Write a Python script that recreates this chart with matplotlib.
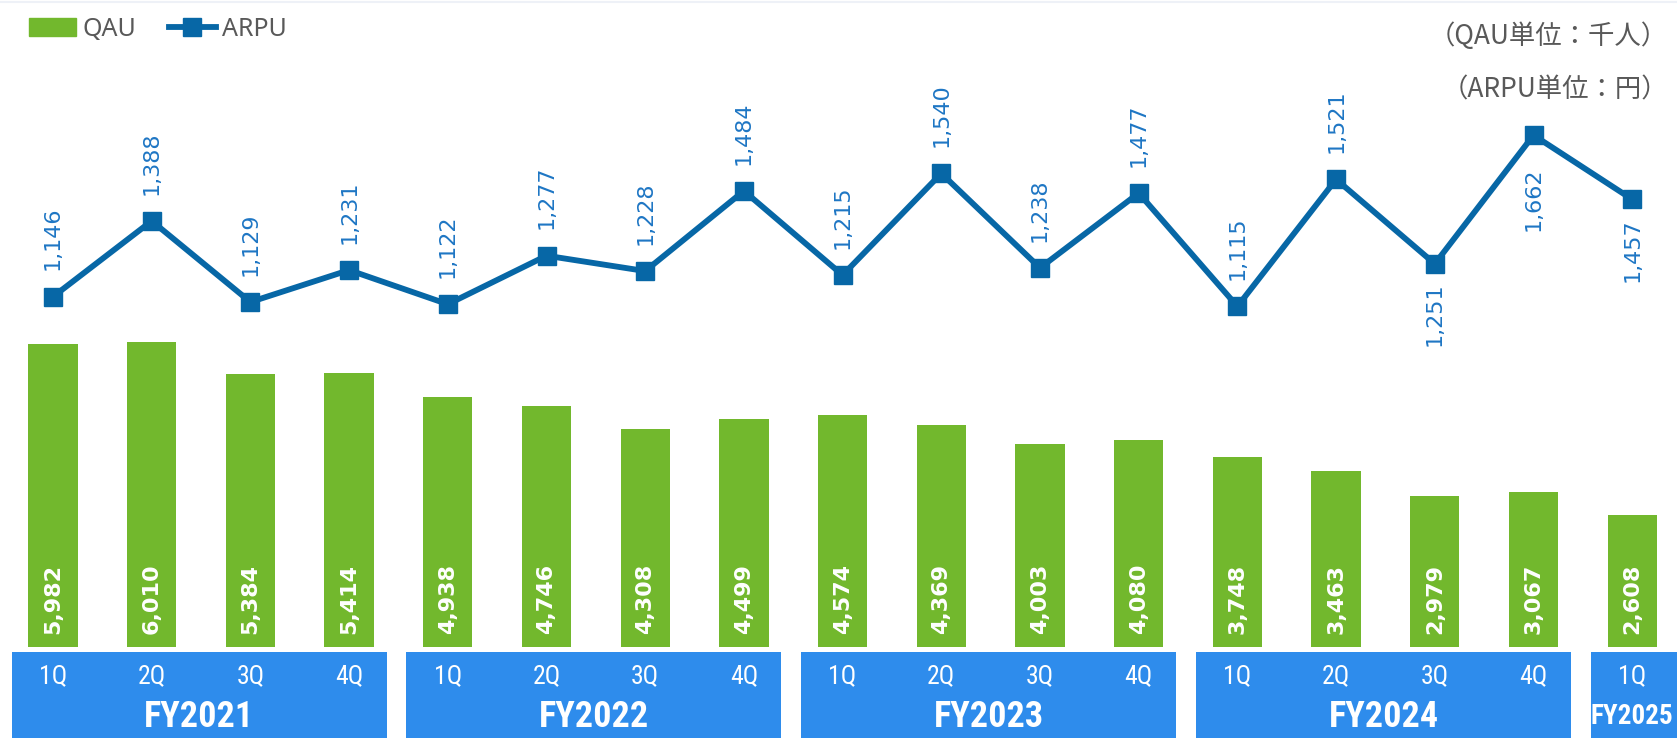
import matplotlib.pyplot as plt
from matplotlib.patches import Rectangle, Patch
from matplotlib.lines import Line2D
from matplotlib import transforms
from matplotlib import font_manager

# quarterly figures
quarters = ['1Q', '2Q', '3Q', '4Q'] * 4 + ['1Q']
fiscal_years = ['FY2021', 'FY2022', 'FY2023', 'FY2024', 'FY2025']
year_sizes = [4, 4, 4, 4, 1]
qau = [5982, 6010, 5384, 5414, 4938, 4746, 4308, 4499, 4574, 4369, 4003, 4080,
       3748, 3463, 2979, 3067, 2608]
arpu = [1146, 1388, 1129, 1231, 1122, 1277, 1228, 1484, 1215, 1540, 1238, 1477,
        1115, 1521, 1251, 1662, 1457]

GREEN = '#72b82d'
LINE_BLUE = '#0767a6'
LABEL_BLUE = '#1e76c4'
BOX_BLUE = '#2e8cec'
GREY = '#595959'

# ARPU labels that sit under their point, with their offsets in points
below_offsets = {14: 13.5, 15: 23, 16: 14}

names = {f.name for f in font_manager.fontManager.ttflist}
narrow = next((n for n in ['Roboto Condensed', 'Liberation Sans Narrow']
               if n in names), None)
if narrow:
    box_font, fy_size, fy_last_size, q_size = narrow, 26, 19.5, 18.5
else:
    box_font, fy_size, fy_last_size, q_size = 'Roboto', 23, 15.5, 16

W, H = 1677, 738
fig = plt.figure(figsize=(W / 100, H / 100), dpi=100)
ax = fig.add_axes([0, 0, 1, 1])
ax2 = ax.twinx()
for a in (ax, ax2):
    a.set_axis_off()

x = list(range(len(qau)))
step = 98.7
ax.set_xlim(-53 / step, (W - 53) / step)
ax.set_ylim(-91 / 0.0507, (H - 91) / 0.0507)
ax2.set_ylim(-82.6 / 0.313, (H - 82.6) / 0.313)

# QAU bars with values written inside
ax.bar(x, qau, width=0.5, color=GREEN, zorder=2)
for xi, v in zip(x, qau):
    ax.annotate(f'{v:,}', (xi, 0), xytext=(0, 9), textcoords='offset points',
                rotation=90, ha='center', va='bottom', color='white',
                fontsize=16, fontweight='bold', family='DejaVu Sans')

# ARPU line
ax2.plot(x, arpu, color=LINE_BLUE, lw=4.2, marker='s', markersize=12.5,
         solid_joinstyle='miter', zorder=3)
for i, (xi, v) in enumerate(zip(x, arpu)):
    if i in below_offsets:
        off, va = -below_offsets[i], 'top'
    else:
        off, va = 19, 'bottom'
    ax2.annotate(f'{v:,}', (xi, v), xytext=(0, off), textcoords='offset points',
                 rotation=90, ha='center', va=va, color=LABEL_BLUE,
                 fontsize=16, family='DejaVu Sans')

# fiscal year boxes along the bottom
trans = transforms.blended_transform_factory(ax.transData, ax.transAxes)
start = 0
for fy, n in zip(fiscal_years, year_sizes):
    left = start - 0.42
    right = start + n - 1 + 0.38 if n > 1 else ax.get_xlim()[1] + 1
    ax.add_patch(Rectangle((left, -0.05), right - left, 0.05 + 0.1165,
                           transform=trans, color=BOX_BLUE, lw=0, zorder=1))
    for k in range(n):
        ax.text(start + k, 0.0844, quarters[start + k], transform=trans,
                ha='center', va='center', color='white', fontsize=q_size,
                family=box_font)
    cx = (left + right) / 2 if n > 1 else start
    ax.text(cx, 0.029, fy, transform=trans, ha='center', va='center',
            color='white', fontsize=fy_size if n > 1 else fy_last_size,
            fontweight='bold', family=box_font)
    start += n

# legend
handles = [Patch(color=GREEN),
           Line2D([], [], color=LINE_BLUE, lw=4.2, marker='s', markersize=12.5)]
leg = ax.legend(handles, ['QAU', 'ARPU'], loc='upper left',
                bbox_to_anchor=(16 / W, 1 - 4 / H), bbox_transform=fig.transFigure,
                ncol=2, frameon=False, handlelength=1.9,
                handletextpad=0.25, columnspacing=1.3, borderpad=0,
                prop={'family': 'Noto Sans', 'size': 18})
for t in leg.get_texts():
    t.set_color(GREY)

# unit notes
cjk = ['Noto Sans CJK JP', 'DejaVu Sans']
fig.text(1668 / W, 1 - 36 / H, '（QAU単位：千人）', ha='right', va='center',
         color=GREY, fontsize=19, family=cjk)
fig.text(1668 / W, 1 - 90 / H, '（ARPU単位：円）', ha='right', va='center',
         color=GREY, fontsize=19, family=cjk)

fig.add_artist(Line2D([0, 1], [1 - 1.5 / H] * 2, color='#eef1f7', lw=1.5))

fig.savefig('out.png', dpi=100)
